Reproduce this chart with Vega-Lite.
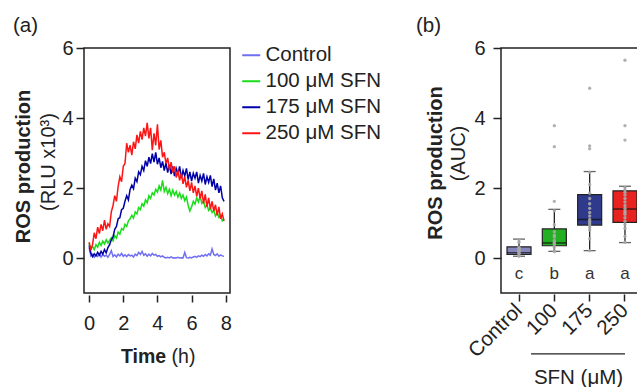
{
  "$schema": "https://vega.github.io/schema/vega-lite/v6.json",
  "background": "white",
  "padding": {"left": 12, "top": 15, "right": 0, "bottom": 0},
  "autosize": {"type": "pad"},
  "bounds": "flush",
  "spacing": 271,
  "resolve": {"scale": {"color": "independent"}, "legend": {"color": "independent"}},
  "config": {
    "font": "Liberation Sans",
    "view": {"stroke": "#222", "strokeWidth": 1.5},
    "axis": {"labelColor": "#222", "titleColor": "#222", "tickColor": "#222", "grid": false, "labelFontSize": 19.5, "titleFontSize": 20},
    "title": {"color": "#222"}
  },
  "datasets": {
    "lines": [
      {"t":0.0,"ctl":0.30,"s100":0.42,"s175":0.36,"s250":0.45},
      {"t":0.1,"ctl":0.06,"s100":0.28,"s175":0.14,"s250":0.22},
      {"t":0.2,"ctl":0.11,"s100":0.33,"s175":0.04,"s250":0.38},
      {"t":0.3,"ctl":0.02,"s100":0.24,"s175":0.12,"s250":0.72},
      {"t":0.4,"ctl":0.09,"s100":0.38,"s175":0.06,"s250":0.55},
      {"t":0.5,"ctl":0.04,"s100":0.31,"s175":0.16,"s250":0.88},
      {"t":0.6,"ctl":0.12,"s100":0.45,"s175":0.08,"s250":0.70},
      {"t":0.7,"ctl":0.03,"s100":0.36,"s175":0.19,"s250":0.96},
      {"t":0.8,"ctl":0.10,"s100":0.48,"s175":0.11,"s250":0.78},
      {"t":0.9,"ctl":0.05,"s100":0.40,"s175":0.24,"s250":1.08},
      {"t":1.0,"ctl":0.08,"s100":0.52,"s175":0.15,"s250":0.82},
      {"t":1.1,"ctl":0.02,"s100":0.43,"s175":0.30,"s250":0.98},
      {"t":1.2,"ctl":0.10,"s100":0.50,"s175":0.38,"s250":0.90},
      {"t":1.3,"ctl":0.21,"s100":0.58,"s175":0.52,"s250":1.32},
      {"t":1.4,"ctl":0.04,"s100":0.49,"s175":0.60,"s250":1.50},
      {"t":1.5,"ctl":0.09,"s100":0.64,"s175":0.82,"s250":1.78},
      {"t":1.6,"ctl":0.03,"s100":0.57,"s175":0.90,"s250":1.62},
      {"t":1.7,"ctl":0.11,"s100":0.74,"s175":1.12,"s250":2.05},
      {"t":1.8,"ctl":0.06,"s100":0.68,"s175":1.15,"s250":2.32},
      {"t":1.9,"ctl":0.13,"s100":0.84,"s175":1.38,"s250":2.18},
      {"t":2.0,"ctl":0.05,"s100":0.80,"s175":1.42,"s250":2.62},
      {"t":2.1,"ctl":0.09,"s100":0.96,"s175":1.62,"s250":2.70},
      {"t":2.2,"ctl":0.04,"s100":0.90,"s175":1.78,"s250":3.28},
      {"t":2.3,"ctl":0.10,"s100":1.06,"s175":1.66,"s250":3.02},
      {"t":2.4,"ctl":0.06,"s100":1.12,"s175":1.96,"s250":3.22},
      {"t":2.5,"ctl":0.08,"s100":1.22,"s175":2.08,"s250":2.94},
      {"t":2.6,"ctl":0.03,"s100":1.14,"s175":1.98,"s250":3.32},
      {"t":2.7,"ctl":0.11,"s100":1.32,"s175":2.28,"s250":3.12},
      {"t":2.8,"ctl":0.07,"s100":1.26,"s175":2.18,"s250":3.52},
      {"t":2.9,"ctl":0.16,"s100":1.44,"s175":2.46,"s250":3.28},
      {"t":3.0,"ctl":0.10,"s100":1.38,"s175":2.38,"s250":3.62},
      {"t":3.1,"ctl":0.19,"s100":1.55,"s175":2.62,"s250":3.38},
      {"t":3.2,"ctl":0.08,"s100":1.48,"s175":2.50,"s250":3.72},
      {"t":3.3,"ctl":0.12,"s100":1.66,"s175":2.78,"s250":3.48},
      {"t":3.4,"ctl":0.05,"s100":1.58,"s175":2.62,"s250":3.86},
      {"t":3.5,"ctl":0.11,"s100":1.78,"s175":2.88,"s250":3.42},
      {"t":3.6,"ctl":0.06,"s100":1.70,"s175":2.70,"s250":3.72},
      {"t":3.7,"ctl":0.13,"s100":1.86,"s175":2.98,"s250":3.08},
      {"t":3.8,"ctl":0.08,"s100":1.80,"s175":2.74,"s250":3.56},
      {"t":3.9,"ctl":0.10,"s100":1.96,"s175":3.02,"s250":3.22},
      {"t":4.0,"ctl":0.05,"s100":1.88,"s175":2.68,"s250":3.82},
      {"t":4.1,"ctl":0.07,"s100":2.06,"s175":2.86,"s250":3.10},
      {"t":4.2,"ctl":0.03,"s100":1.94,"s175":2.58,"s250":3.36},
      {"t":4.3,"ctl":0.06,"s100":2.22,"s175":2.76,"s250":2.88},
      {"t":4.4,"ctl":0.02,"s100":1.90,"s175":2.50,"s250":3.02},
      {"t":4.5,"ctl":0.00,"s100":2.02,"s175":2.72,"s250":2.70},
      {"t":4.6,"ctl":0.02,"s100":1.84,"s175":2.44,"s250":2.86},
      {"t":4.7,"ctl":0.00,"s100":1.96,"s175":2.66,"s250":2.52},
      {"t":4.8,"ctl":0.03,"s100":1.78,"s175":2.40,"s250":2.74},
      {"t":4.9,"ctl":0.00,"s100":1.94,"s175":2.62,"s250":2.44},
      {"t":5.0,"ctl":0.01,"s100":1.80,"s175":2.34,"s250":2.62},
      {"t":5.1,"ctl":0.00,"s100":1.90,"s175":2.56,"s250":2.30},
      {"t":5.2,"ctl":0.02,"s100":1.74,"s175":2.40,"s250":2.52},
      {"t":5.3,"ctl":0.00,"s100":1.86,"s175":2.62,"s250":2.22},
      {"t":5.4,"ctl":0.01,"s100":1.70,"s175":2.28,"s250":2.42},
      {"t":5.5,"ctl":0.00,"s100":1.80,"s175":2.50,"s250":2.12},
      {"t":5.6,"ctl":0.16,"s100":1.64,"s175":2.34,"s250":2.32},
      {"t":5.7,"ctl":0.01,"s100":1.74,"s175":2.56,"s250":2.02},
      {"t":5.8,"ctl":0.00,"s100":1.50,"s175":2.24,"s250":2.22},
      {"t":5.9,"ctl":0.02,"s100":1.34,"s175":2.46,"s250":1.92},
      {"t":6.0,"ctl":0.00,"s100":1.46,"s175":2.20,"s250":2.16},
      {"t":6.1,"ctl":0.03,"s100":1.62,"s175":2.42,"s250":1.86},
      {"t":6.2,"ctl":0.05,"s100":1.54,"s175":2.28,"s250":2.06},
      {"t":6.3,"ctl":0.02,"s100":1.72,"s175":2.46,"s250":1.76},
      {"t":6.4,"ctl":0.06,"s100":1.60,"s175":2.14,"s250":2.00},
      {"t":6.5,"ctl":0.04,"s100":1.76,"s175":2.36,"s250":1.70},
      {"t":6.6,"ctl":0.08,"s100":1.56,"s175":2.20,"s250":1.92},
      {"t":6.7,"ctl":0.05,"s100":1.62,"s175":2.42,"s250":1.56},
      {"t":6.8,"ctl":0.10,"s100":1.44,"s175":2.10,"s250":1.82},
      {"t":6.9,"ctl":0.06,"s100":1.52,"s175":2.32,"s250":1.46},
      {"t":7.0,"ctl":0.12,"s100":1.36,"s175":2.16,"s250":1.72},
      {"t":7.1,"ctl":0.08,"s100":1.42,"s175":2.36,"s250":1.40},
      {"t":7.2,"ctl":0.26,"s100":1.30,"s175":2.04,"s250":1.62},
      {"t":7.3,"ctl":0.10,"s100":1.36,"s175":2.26,"s250":1.34},
      {"t":7.4,"ctl":0.07,"s100":1.20,"s175":1.94,"s250":1.52},
      {"t":7.5,"ctl":0.12,"s100":1.30,"s175":2.14,"s250":1.22},
      {"t":7.6,"ctl":0.05,"s100":1.16,"s175":1.86,"s250":1.46},
      {"t":7.7,"ctl":0.09,"s100":1.22,"s175":2.06,"s250":1.12},
      {"t":7.8,"ctl":0.06,"s100":1.06,"s175":1.72,"s250":1.26},
      {"t":7.9,"ctl":0.05,"s100":1.10,"s175":1.62,"s250":1.06}
    ],
    "boxes": [
      {"g":"Control","lo":0.05,"q1":0.10,"med":0.15,"q3":0.32,"hi":0.54,"letter":"c"},
      {"g":"100","lo":0.19,"q1":0.35,"med":0.43,"q3":0.83,"hi":1.39,"letter":"b"},
      {"g":"175","lo":0.21,"q1":0.94,"med":1.10,"q3":1.81,"hi":2.47,"letter":"a"},
      {"g":"250","lo":0.44,"q1":1.02,"med":1.40,"q3":1.92,"hi":2.05,"letter":"a"}
    ],
    "pts": [
      {"g":"Control","v":0.05},{"g":"Control","v":0.08},{"g":"Control","v":0.12},{"g":"Control","v":0.15},
      {"g":"Control","v":0.18},{"g":"Control","v":0.20},{"g":"Control","v":0.22},{"g":"Control","v":0.25},
      {"g":"Control","v":0.28},{"g":"Control","v":0.30},{"g":"Control","v":0.45},{"g":"Control","v":0.52},
      {"g":"100","v":0.18},{"g":"100","v":0.20},{"g":"100","v":0.30},{"g":"100","v":0.38},{"g":"100","v":0.42},
      {"g":"100","v":0.45},{"g":"100","v":0.50},{"g":"100","v":0.60},{"g":"100","v":0.65},{"g":"100","v":0.75},
      {"g":"100","v":0.95},{"g":"100","v":1.35},{"g":"100","v":1.62},{"g":"100","v":3.18},{"g":"100","v":3.78},
      {"g":"175","v":0.21},{"g":"175","v":0.55},{"g":"175","v":0.80},{"g":"175","v":0.88},{"g":"175","v":0.95},
      {"g":"175","v":1.00},{"g":"175","v":1.05},{"g":"175","v":1.10},{"g":"175","v":1.20},{"g":"175","v":1.30},
      {"g":"175","v":1.42},{"g":"175","v":1.55},{"g":"175","v":1.70},{"g":"175","v":1.85},{"g":"175","v":2.10},
      {"g":"175","v":2.45},{"g":"175","v":3.12},{"g":"175","v":3.20},{"g":"175","v":4.85},
      {"g":"250","v":0.45},{"g":"250","v":0.62},{"g":"250","v":0.85},{"g":"250","v":0.95},{"g":"250","v":1.05},
      {"g":"250","v":1.15},{"g":"250","v":1.25},{"g":"250","v":1.30},{"g":"250","v":1.35},{"g":"250","v":1.42},
      {"g":"250","v":1.50},{"g":"250","v":1.60},{"g":"250","v":1.70},{"g":"250","v":1.80},{"g":"250","v":1.88},
      {"g":"250","v":1.95},{"g":"250","v":2.02},{"g":"250","v":3.37},{"g":"250","v":3.78},{"g":"250","v":5.65}
    ]
  },
  "hconcat": [
    {
      "width": 146,
      "height": 245,
      "title": {"text": "(a)", "anchor": "start", "frame": "group", "dx": -71, "offset": -14.5, "baseline": "alphabetic", "fontSize": 20.5, "fontWeight": "normal"},
      "layer": [
        {
          "data": {"name": "lines"},
          "transform": [{"fold": ["ctl", "s100", "s175", "s250"], "as": ["series", "v"]}],
          "mark": {"type": "line", "strokeWidth": 1.5, "clip": true},
          "encoding": {
            "x": {"field": "t", "type": "quantitative",
              "scale": {"domain": [-0.3, 8.25], "nice": false, "zero": false},
              "axis": {"values": [0, 2, 4, 6, 8], "domain": false, "offset": 2, "tickSize": 7, "tickWidth": 1.5, "labelPadding": 11, "labelFlush": false, "labelFontSize": 20,
                "title": "Time", "titleFontSize": 19.5, "titleFontWeight": "bold", "titleX": 59, "titleY": 67, "titleBaseline": "alphabetic", "titleAlign": "center"}},
            "y": {"field": "v", "type": "quantitative",
              "scale": {"domain": [-1, 6], "nice": false, "zero": false},
              "axis": {"values": [0, 2, 4, 6], "domain": false, "tickSize": 8, "tickWidth": 1.5, "labelPadding": 3, "labelFontSize": 20,
                "title": "ROS production", "titleFontWeight": "bold", "titleX": -61, "titleY": 118, "titleBaseline": "middle", "titleAngle": -90, "titleAlign": "center"}},
            "color": {"field": "series", "type": "nominal",
              "scale": {"domain": ["ctl", "s100", "s175", "s250"], "range": ["#6f6ff2", "#19dd19", "#0000a8", "#ff1414"]},
              "legend": {"orient": "none", "legendX": 157, "legendY": -3, "title": null, "symbolType": "stroke", "symbolSize": 324, "symbolStrokeWidth": 2,
                "labelFontSize": 20.5, "labelColor": "#222", "rowPadding": 5, "labelOffset": 4,
                "labelExpr": "datum.label == 'ctl' ? 'Control' : datum.label == 's100' ? '100 μM SFN' : datum.label == 's175' ? '175 μM SFN' : '250 μM SFN'"}}
          }
        },
        {
          "data": {"values": [{}]},
          "mark": {"type": "point", "opacity": 0},
          "encoding": {
            "x": {"datum": 4, "type": "quantitative",
              "axis": {"orient": "bottom", "offset": 2, "domain": false, "ticks": false, "labels": false, "title": "(h)", "titleFontSize": 19.5, "titleFontWeight": "normal", "titleX": 99, "titleY": 67, "titleBaseline": "alphabetic", "titleAlign": "center"}},
            "y": {"datum": 0, "type": "quantitative",
              "axis": {"orient": "left", "domain": false, "ticks": false, "labels": false, "title": "(RLU x10³)", "titleFontWeight": "normal", "titleX": -36, "titleY": 113.5, "titleBaseline": "middle", "titleAngle": -90, "titleAlign": "center"}}
          }
        }
      ],
      "resolve": {"axis": {"x": "independent", "y": "independent"}}
    },
    {
      "width": 142,
      "height": 245,
      "title": {"text": "(b)", "anchor": "start", "frame": "group", "dx": -85, "offset": -14.5, "baseline": "alphabetic", "fontSize": 20.5, "fontWeight": "normal"},
      "layer": [
        {
          "data": {"name": "boxes"},
          "mark": {"type": "rule", "color": "#222", "strokeWidth": 1.3},
          "encoding": {
            "x": {"field": "g", "type": "nominal", "sort": null,
              "scale": {"domain": ["Control", "100", "175", "250"], "paddingInner": 0.32, "paddingOuter": 0.17},
              "axis": {"domain": false, "offset": 1, "tickSize": 7, "tickWidth": 1.5, "labelAngle": -45, "labelAlign": "right", "labelBaseline": "middle", "labelPadding": 6, "labelFontSize": 20.5,
                "title": "SFN (μM)", "titleFontSize": 20.5, "titleFontWeight": "normal", "titleX": 77, "titleY": 89, "titleBaseline": "alphabetic", "titleAlign": "center"}},
            "y": {"field": "lo", "type": "quantitative",
              "scale": {"domain": [-1, 6], "nice": false, "zero": false},
              "axis": {"values": [0, 2, 4, 6], "domain": false, "tickSize": 8, "tickWidth": 1.5, "labelPadding": 8, "labelFontSize": 20,
                "title": "ROS production", "titleFontWeight": "bold", "titleX": -66, "titleY": 114.5, "titleBaseline": "middle", "titleAngle": -90, "titleAlign": "center"}},
            "y2": {"field": "hi"}
          }
        },
        {
          "data": {"name": "boxes"},
          "mark": {"type": "tick", "color": "#222", "size": 12, "thickness": 1.3},
          "encoding": {
            "x": {"field": "g", "type": "nominal", "axis": null},
            "y": {"field": "lo", "type": "quantitative", "axis": null}
          }
        },
        {
          "data": {"name": "boxes"},
          "mark": {"type": "tick", "color": "#222", "size": 12, "thickness": 1.3},
          "encoding": {
            "x": {"field": "g", "type": "nominal", "axis": null},
            "y": {"field": "hi", "type": "quantitative", "axis": null}
          }
        },
        {
          "data": {"name": "boxes"},
          "mark": {"type": "bar", "stroke": "#222", "strokeWidth": 1.2},
          "encoding": {
            "x": {"field": "g", "type": "nominal", "axis": null},
            "y": {"field": "q1", "type": "quantitative", "axis": null},
            "y2": {"field": "q3"},
            "color": {"field": "g", "type": "nominal", "legend": null,
              "scale": {"domain": ["Control", "100", "175", "250"], "range": ["#8686bc", "#22b022", "#2f3a8c", "#e8231f"]}}
          }
        },
        {
          "data": {"name": "boxes"},
          "mark": {"type": "tick", "color": "#111", "size": 24, "thickness": 1.6},
          "encoding": {
            "x": {"field": "g", "type": "nominal", "axis": null},
            "y": {"field": "med", "type": "quantitative", "axis": null}
          }
        },
        {
          "data": {"name": "pts"},
          "mark": {"type": "circle", "size": 11, "color": "#a8a8a8", "opacity": 0.9},
          "encoding": {
            "x": {"field": "g", "type": "nominal", "axis": null},
            "y": {"field": "v", "type": "quantitative",
              "axis": {"orient": "left", "domain": false, "ticks": false, "labels": false, "title": "(AUC)", "titleFontWeight": "normal", "titleX": -43, "titleY": 105, "titleBaseline": "middle", "titleAngle": -90, "titleAlign": "center"}}
          }
        },
        {
          "data": {"name": "boxes"},
          "mark": {"type": "text", "fontSize": 17, "color": "#333", "baseline": "middle"},
          "encoding": {
            "x": {"field": "g", "type": "nominal", "axis": null},
            "y": {"datum": -0.45, "type": "quantitative", "axis": null},
            "text": {"field": "letter"}
          }
        },
        {
          "data": {"values": [{}]},
          "mark": {"type": "rule", "color": "#222", "strokeWidth": 1.3, "clip": false},
          "encoding": {
            "x": {"datum": "Control", "type": "nominal", "bandPosition": 1, "axis": null},
            "x2": {"datum": "250"},
            "y": {"datum": -2.74, "type": "quantitative", "axis": null}
          }
        }
      ],
      "resolve": {"axis": {"x": "independent", "y": "independent"}}
    }
  ]
}
